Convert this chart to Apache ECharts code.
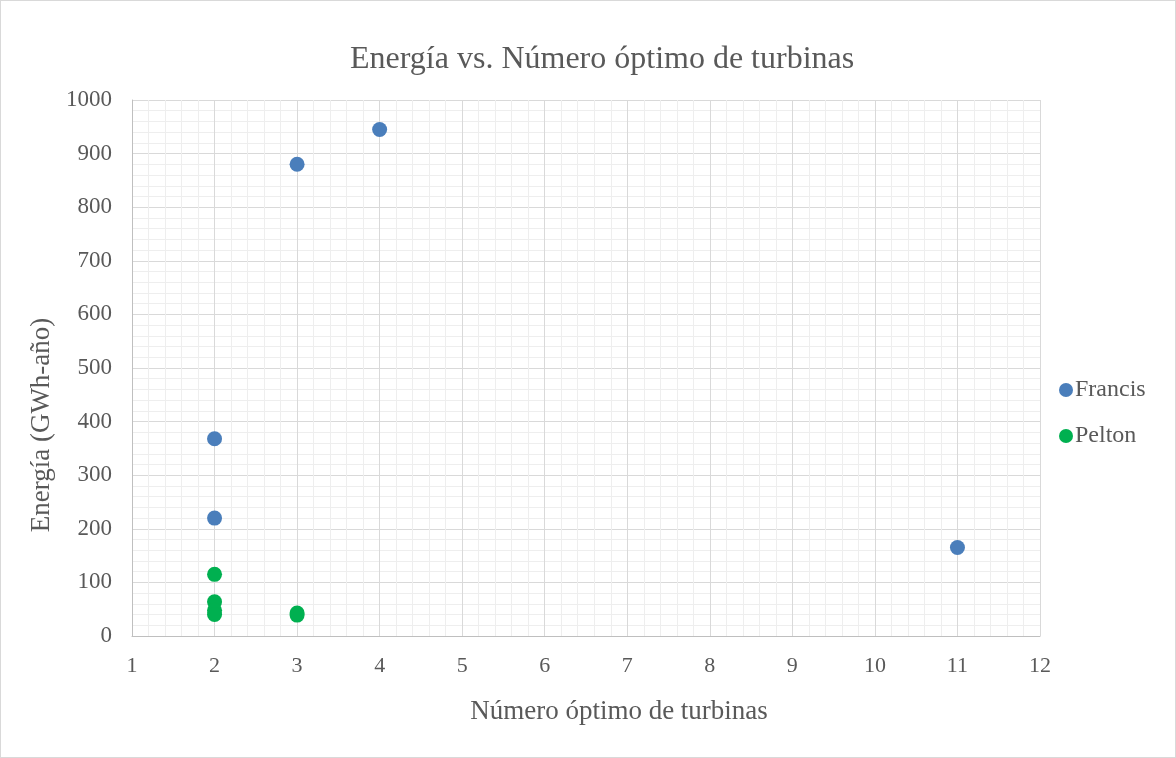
<!DOCTYPE html>
<html><head><meta charset="utf-8">
<script src="https://cdn.jsdelivr.net/npm/echarts@6/dist/echarts.min.js"></script>
<style>
html,body{margin:0;padding:0;background:#fff;}
#c{position:absolute;left:0;top:0;width:1174px;height:756px;border:1px solid #d9d9d9;}
</style></head><body>
<div id="c"></div>
<script>
const francisX = [2, 2, 3, 4, 11];
const francisY = [368, 220, 880, 945, 165];
const peltonX = [2, 2, 2, 2, 3, 3];
const peltonY = [115, 64, 48, 40, 43, 39];
const seriesNames = ['Francis', 'Pelton'];
const chartTitle = 'Energía vs. Número óptimo de turbinas';
const xTitle = 'Número óptimo de turbinas';
const yTitle = 'Energía (GWh-año)';

const font = '"Liberation Serif", "Times New Roman", serif';
const chart = echarts.init(document.getElementById('c'));
chart.setOption({
  animation: false,
  title: {text: chartTitle, left: 344, top: 38,
    textStyle: {fontFamily: font, fontSize: 32, fontWeight: 'normal', color: '#595959'}},
  legend: {orient: 'vertical', left: 1053, top: 372, itemGap: 22, itemWidth: 14, itemHeight: 14,
    icon: 'circle', textStyle: {fontFamily: font, fontSize: 24, lineHeight: 24, color: '#595959', padding: [0,0,0,-3]},
    data: seriesNames},
  grid: {left: 131, right: 135, top: 99, bottom: 121, containLabel: false},
  xAxis: {type: 'value', min: 1, max: 12, interval: 1,
    name: xTitle, nameLocation: 'middle', nameGap: 62,
    nameTextStyle: {fontFamily: font, fontSize: 27, color: '#595959', padding: [0, 0, 0, 66]},
    axisLine: {show: true, lineStyle: {color: '#bfbfbf', width: 1}},
    axisTick: {show: false},
    axisLabel: {fontFamily: font, fontSize: 22, color: '#595959', margin: 19},
    splitLine: {show: true, lineStyle: {color: '#d9d9d9', width: 1}},
    minorTick: {show: false, splitNumber: 5},
    minorSplitLine: {show: true, lineStyle: {color: '#eeeeee', width: 1}}},
  yAxis: {type: 'value', min: 0, max: 1000, interval: 100,
    name: yTitle, nameLocation: 'middle', nameGap: 74,
    nameTextStyle: {fontFamily: font, fontSize: 27, color: '#595959', padding: [0, 114, 0, 0]},
    axisLine: {show: true, lineStyle: {color: '#bfbfbf', width: 1}},
    axisTick: {show: false},
    axisLabel: {fontFamily: font, fontSize: 23, color: '#595959', margin: 20, formatter: v => String(v)},
    splitLine: {show: true, lineStyle: {color: '#d9d9d9', width: 1}},
    minorTick: {show: false, splitNumber: 5},
    minorSplitLine: {show: true, lineStyle: {color: '#eeeeee', width: 1}}},
  series: [
    {name: seriesNames[0], type: 'scatter', symbolSize: 15, itemStyle: {color: '#4a7ebb', opacity: 1},
      data: francisX.map((x, i) => [x, francisY[i]])},
    {name: seriesNames[1], type: 'scatter', symbolSize: 15, itemStyle: {color: '#00b050', opacity: 1},
      data: peltonX.map((x, i) => [x, peltonY[i]])}
  ]
});
</script></body></html>
